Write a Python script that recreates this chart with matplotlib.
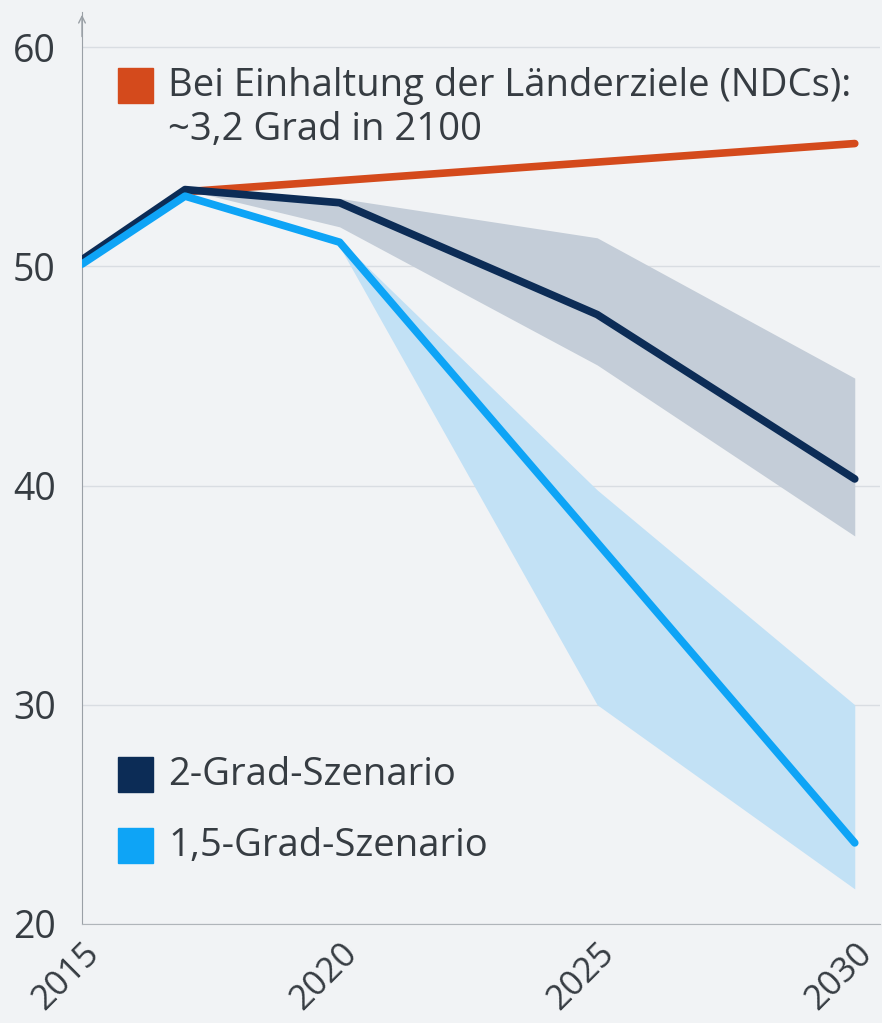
import matplotlib.pyplot as plt
from matplotlib.patches import Rectangle

plt.rcParams['font.family'] = ['Open Sans', 'DejaVu Sans']

# Werte (Gt CO2-Äquivalente)
years_ndc = [2017, 2030]
ndc = [53.4, 55.6]

years = [2015, 2017, 2020, 2025, 2030]
grad2 = [50.3, 53.5, 52.9, 47.8, 40.3]
grad15 = [50.1, 53.2, 51.1, 37.4, 23.7]

band2_years = [2017, 2020, 2025, 2030]
band2_low = [53.5, 51.8, 45.5, 37.7]
band2_high = [53.5, 53.1, 51.3, 44.9]

band15_years = [2020, 2025, 2030]
band15_low = [50.9, 30.0, 21.6]
band15_high = [51.2, 39.8, 30.0]

bg = '#f1f3f5'
c_ndc = '#d44a1c'
c_2 = '#0c2c56'
c_15 = '#0ea4f6'
txt = '#363c42'

fig = plt.figure(figsize=(8.82, 10.23), dpi=100, facecolor=bg)
ax = fig.add_axes([82 / 882, 99 / 1023, 798 / 882, 912 / 1023])
ax.set_facecolor(bg)

ax.fill_between(band2_years, band2_low, band2_high, color='#c4cdd8', lw=0, zorder=1)
ax.fill_between(band15_years, band15_low, band15_high, color='#c2e1f5', lw=0, zorder=1)

ax.plot(years_ndc, ndc, color=c_ndc, lw=5.5, solid_capstyle='round', zorder=3)
ax.plot(years, grad2, color=c_2, lw=5.5, solid_capstyle='round', solid_joinstyle='round', zorder=4)
ax.plot(years, grad15, color=c_15, lw=5.5, solid_capstyle='round', solid_joinstyle='round', zorder=5)

ax.set_xlim(2015, 2030.49)
ax.set_ylim(20, 61.6)
ax.set_yticks([20, 30, 40, 50, 60])
ax.set_xticks([2015, 2020, 2025, 2030])
ax.grid(axis='y', color='#d9dde2', lw=1, zorder=0)
ax.set_axisbelow(True)

for s in ['top', 'right']:
    ax.spines[s].set_visible(False)
ax.spines['left'].set_color('#9aa0a6')
ax.spines['bottom'].set_color('#b0b5ba')
ax.tick_params(length=0, labelsize=27, colors=txt)
ax.tick_params(axis='y', pad=19)
ax.tick_params(axis='x', pad=9, labelsize=25)
for lab in ax.get_xticklabels():
    lab.set_rotation(45)
    lab.set_ha('right')
    lab.set_va('top')
    lab.set_rotation_mode('anchor')

ax.annotate('', xy=(0, 1.0), xytext=(0, 0.97), xycoords='axes fraction',
            arrowprops=dict(arrowstyle='->', color='#9aa0a6', lw=1, mutation_scale=12))

# Legenden als Text und Quadrate
def legend_item(x, y, color, text):
    fig.patches.append(Rectangle((x / 882, 1 - (y + 17) / 1023), 35 / 882, 35 / 1023,
                                 transform=fig.transFigure, color=color, zorder=10))
    fig.text(168 / 882, 1 - y / 1023, text, fontsize=27.5, color=txt,
             va='center', ha='left')

legend_item(118, 86, c_ndc, 'Bei Einhaltung der Länderziele (NDCs):')
fig.text(168 / 882, 1 - 130 / 1023, '~3,2 Grad in 2100', fontsize=27.5, color=txt,
         va='center', ha='left')
legend_item(118, 775, c_2, '2-Grad-Szenario')
legend_item(118, 846, c_15, '1,5-Grad-Szenario')

fig.savefig('out.png', dpi=100, facecolor=bg)
